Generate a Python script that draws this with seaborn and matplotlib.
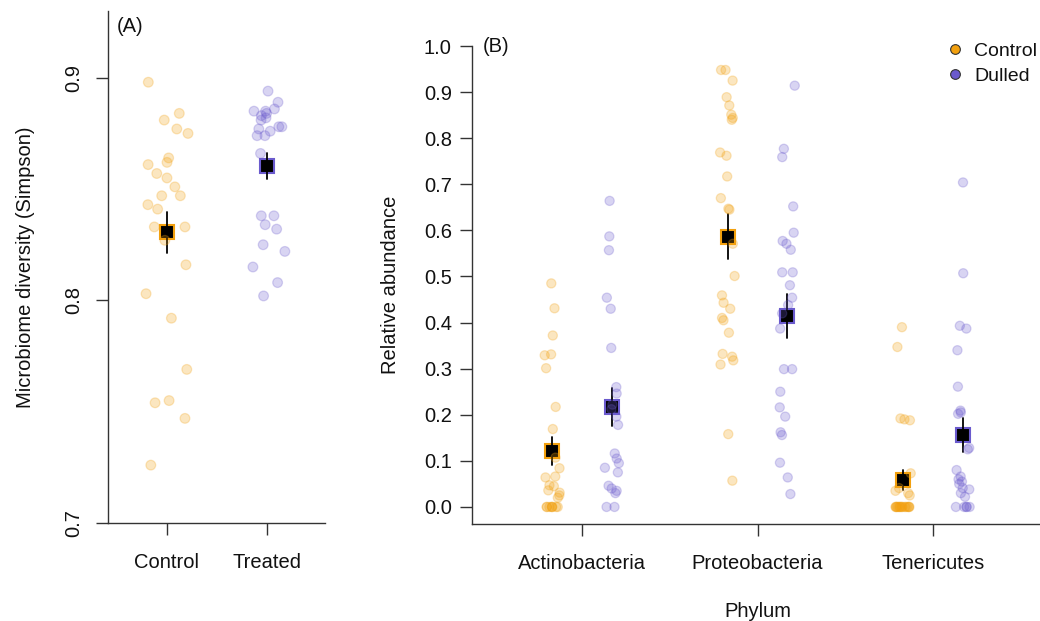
import numpy as np
import pandas as pd
import seaborn as sns
from matplotlib import pyplot as plt
from matplotlib.lines import Line2D

# (A) Simpson diversity per sample
diversity_control = [0.898, 0.884, 0.881, 0.877, 0.875, 0.864, 0.862, 0.861, 0.857,
                     0.855, 0.851, 0.847, 0.847, 0.843, 0.841, 0.833, 0.833, 0.827,
                     0.816, 0.803, 0.792, 0.769, 0.754, 0.755, 0.747, 0.726]
diversity_treated = [0.894, 0.889, 0.886, 0.885, 0.885, 0.884, 0.883, 0.882, 0.881,
                     0.878, 0.878, 0.877, 0.876, 0.874, 0.874, 0.866, 0.838, 0.838,
                     0.834, 0.832, 0.825, 0.822, 0.815, 0.808, 0.802]

# (B) relative abundance per phylum
phyla = ["Actinobacteria", "Proteobacteria", "Tenericutes"]
groups_b = ["Control", "Dulled"]
actino_control = [0.485, 0.431, 0.372, 0.331, 0.329, 0.301, 0.217, 0.169, 0.107, 0.084,
                  0.066, 0.064, 0.047, 0.045, 0.036, 0.031, 0.025, 0.020,
                  0.0, 0.0, 0.0, 0.0, 0.0, 0.0, 0.0, 0.0]
actino_dulled = [0.664, 0.587, 0.557, 0.454, 0.430, 0.345, 0.260, 0.246, 0.222, 0.212,
                 0.196, 0.178, 0.116, 0.105, 0.095, 0.085, 0.075, 0.046, 0.040, 0.035,
                 0.030, 0.0, 0.0]
proteo_control = [0.948, 0.948, 0.925, 0.889, 0.871, 0.851, 0.844, 0.840, 0.769, 0.762,
                  0.717, 0.670, 0.647, 0.645, 0.571, 0.501, 0.459, 0.443, 0.430, 0.410,
                  0.405, 0.378, 0.332, 0.326, 0.318, 0.309, 0.158, 0.057]
proteo_dulled = [0.914, 0.777, 0.759, 0.652, 0.595, 0.577, 0.571, 0.558, 0.509, 0.509,
                 0.481, 0.454, 0.438, 0.420, 0.387, 0.299, 0.299, 0.250, 0.216, 0.196,
                 0.162, 0.156, 0.096, 0.064, 0.028]
teneri_control = [0.390, 0.347, 0.192, 0.190, 0.188, 0.073, 0.041, 0.035, 0.030, 0.025,
                  0.0, 0.0, 0.0, 0.0, 0.0, 0.0, 0.0, 0.0, 0.0, 0.0, 0.0, 0.0, 0.0, 0.0,
                  0.0, 0.0]
teneri_dulled = [0.704, 0.507, 0.393, 0.387, 0.340, 0.261, 0.209, 0.205, 0.202, 0.128,
                 0.125, 0.080, 0.066, 0.060, 0.055, 0.050, 0.041, 0.038, 0.030, 0.022,
                 0.0, 0.0, 0.0, 0.0, 0.0]

orange = "#F2A00E"
purple = "#6A5ACD"
axis_col = "#333333"


def main():
    sns.set_style("ticks")
    plt.rcParams["font.family"] = ["Liberation Sans", "DejaVu Sans"]
    plt.rcParams["font.size"] = 14.5
    plt.rcParams["text.color"] = "#111111"
    plt.rcParams["axes.labelcolor"] = "#111111"
    plt.rcParams["xtick.color"] = axis_col
    plt.rcParams["ytick.color"] = axis_col
    plt.rcParams["xtick.labelcolor"] = "#111111"
    plt.rcParams["ytick.labelcolor"] = "#111111"
    np.random.seed(7)

    div_df = pd.DataFrame({
        "group": ["Control"] * len(diversity_control) + ["Treated"] * len(diversity_treated),
        "simpson": diversity_control + diversity_treated,
    })

    abund = {
        ("Actinobacteria", "Control"): actino_control,
        ("Actinobacteria", "Dulled"): actino_dulled,
        ("Proteobacteria", "Control"): proteo_control,
        ("Proteobacteria", "Dulled"): proteo_dulled,
        ("Tenericutes", "Control"): teneri_control,
        ("Tenericutes", "Dulled"): teneri_dulled,
    }
    rows = [(p, g, v) for (p, g), vals in abund.items() for v in vals]
    ab_df = pd.DataFrame(rows, columns=["phylum", "group", "abundance"])
    ab_df["pos"] = (ab_df.phylum.map({p: i for i, p in enumerate(phyla)})
                    + ab_df.group.map({"Control": -0.17, "Dulled": 0.17}))

    fig = plt.figure(figsize=(10.4, 6.21), dpi=100)
    ax1 = fig.add_axes([0.1038, 0.1578, 0.2087, 0.8245])
    ax2 = fig.add_axes([0.4538, 0.1562, 0.5462, 0.7697])

    pal_a = {"Control": orange, "Treated": purple}
    pal_b = {"Control": orange, "Dulled": purple}
    mean_kws = dict(errorbar="se", markers="s", linestyle="none", markersize=10,
                    markerfacecolor="black", markeredgewidth=1.5,
                    err_kws={"color": "black", "linewidth": 1.3}, legend=False)

    # panel A
    sns.stripplot(data=div_df, x="group", y="simpson", hue="group", palette=pal_a,
                  jitter=0.22, size=7, alpha=0.26, linewidth=0.9, edgecolor="face",
                  legend=False, ax=ax1)
    sns.pointplot(data=div_df, x="group", y="simpson", hue="group", palette=pal_a,
                  ax=ax1, **mean_kws)
    ax1.set_xlim(-0.59, 1.58)
    ax1.set_ylim(0.7, 0.93)
    ax1.set_yticks([0.7, 0.8, 0.9], ["0.7", "0.8", "0.9"])
    ax1.tick_params(axis="y", labelrotation=90, pad=9.5)
    for lab in ax1.get_yticklabels():
        lab.set_verticalalignment("center")
    ax1.set_xlabel("")
    ax1.set_ylabel("Microbiome diversity (Simpson)")
    ax1.yaxis.set_label_coords(-0.335, 0.5)
    ax1.text(0.041, 0.969, "(A)", transform=ax1.transAxes, ha="left", va="center")

    # panel B
    sns.stripplot(data=ab_df, x="pos", y="abundance", hue="group", palette=pal_b,
                  native_scale=True, orient="x", jitter=0.13, size=6.6, alpha=0.26,
                  linewidth=0.9, edgecolor="face", legend=False, ax=ax2)
    sns.pointplot(data=ab_df, x="pos", y="abundance", hue="group", palette=pal_b,
                  native_scale=True, orient="x", ax=ax2, **mean_kws)
    ax2.set_xticks(range(len(phyla)), phyla)
    ax2.set_xlim(-0.629, 2.611)
    ax2.set_ylim(-0.037, 1.0)
    yt = np.round(np.arange(0, 1.01, 0.1), 1)
    ax2.set_yticks(yt, [f"{v:.1f}" for v in yt])
    ax2.set_xlabel("Phylum")
    ax2.set_ylabel("Relative abundance")
    ax2.xaxis.set_label_coords(0.5035, -0.163)
    ax2.yaxis.set_label_coords(-0.127, 0.5)
    ax2.text(0.019, 1.0, "(B)", transform=ax2.transAxes, ha="left", va="center")

    for ax in (ax1, ax2):
        sns.despine(ax=ax)
        for side in ("left", "bottom"):
            ax.spines[side].set_color(axis_col)
            ax.spines[side].set_linewidth(1.0)
        ax.tick_params(length=8.5, width=1.0)
        ax.tick_params(axis="x", pad=13)
    ax2.tick_params(axis="y", pad=6)

    handles = [Line2D([], [], marker="o", linestyle="none", markersize=7,
                      markerfacecolor=c, markeredgecolor="#333333", markeredgewidth=0.8)
               for c in (orange, purple)]
    fig.legend(handles, groups_b, loc="upper right", bbox_to_anchor=(1037 / 1040, 1 - 42 / 621),
               frameon=False, fontsize=14, handletextpad=0.5, labelspacing=0.4,
               borderaxespad=0, borderpad=0, handlelength=1.0)

    fig.savefig("out.png", dpi=100)


if __name__ == '__main__':
    main()
